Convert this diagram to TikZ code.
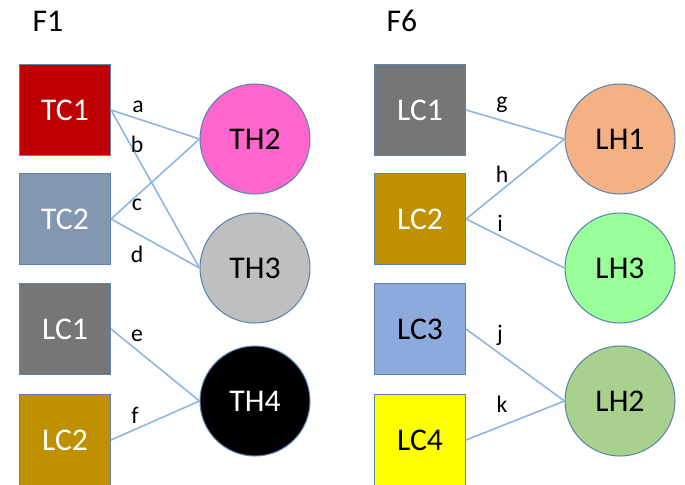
\documentclass[tikz,border=0pt]{standalone}
\usepackage{fontspec}
\setmainfont{Carlito}
\usetikzlibrary{positioning}

\definecolor{tcred}{HTML}{C00000}
\definecolor{tcslate}{HTML}{8497B0}
\definecolor{lcgray}{HTML}{767676}
\definecolor{lcgold}{HTML}{BF9000}
\definecolor{lcblue}{HTML}{8EA9DB}
\definecolor{lcyellow}{HTML}{FFFF00}
\definecolor{thpink}{HTML}{FF66CC}
\definecolor{thsilver}{HTML}{BFBFBF}
\definecolor{lhorange}{HTML}{F4B183}
\definecolor{lhmint}{HTML}{99FF99}
\definecolor{lhgreen}{HTML}{A9D18E}
\definecolor{rim}{HTML}{5B84B1}
\definecolor{wire}{HTML}{8DB4E2}

\begin{document}
\begin{tikzpicture}[x=0.02cm, y=-0.02cm,
    cause/.style ={rectangle, draw=rim, line width=0.6pt, minimum size=1.82cm,
                   inner sep=0pt, font=\fontsize{18}{21}\selectfont},
    effect/.style ={circle, draw=rim, line width=0.6pt, minimum size=2.2cm,
                   inner sep=0pt, font=\fontsize{18}{21}\selectfont},
    link/.style ={draw=wire, line width=0.9pt},
    tag/.style ={anchor=base, inner sep=0pt, font=\fontsize{13.5}{16}\selectfont},
    panel/.style ={anchor=base, inner sep=0pt, font=\fontsize{18}{21}\selectfont}]
   \useasboundingbox (0,0) rectangle (685,484);

   % F1
   \node[panel] (F1) at (48,31) {F1};
   \node[cause, fill=tcred, text=white]  (TC1) at (65,110)  {TC1};
   \node[cause, fill=tcslate, text=white] (TC2) at (65,219)  {TC2};
   \node[cause, fill=lcgray, text=white]  (LC1a) at (65,329) {LC1};
   \node[cause, fill=lcgold, text=white]  (LC2a) at (65,440) {LC2};
   \node[effect, fill=thpink]             (TH2) at (255,139) {TH2};
   \node[effect, fill=thsilver]           (TH3) at (255,268) {TH3};
   \node[effect, fill=black, text=white]  (TH4) at (255,401) {TH4};

   \draw[link] (TC1.east) to (TH2.west);
   \draw[link] (TC1.east) to (TH3.west);
   \draw[link] (TC2.east) to (TH2.west);
   \draw[link] (TC2.east) to (TH3.west);
   \draw[link] (LC1a.east) to (TH4.west);
   \draw[link] (LC2a.east) to (TH4.west);

   \node[tag] (la) at (138,112) {a};
   \node[tag] (lb) at (137,152) {b};
   \node[tag] (lc) at (137,210) {c};
   \node[tag] (ld) at (137,262) {d};
   \node[tag] (le) at (137,341) {e};
   \node[tag] (lf) at (135,423) {f};

   % F6
   \node[panel] (F6) at (402,31) {F6};
   \node[cause, fill=lcgray, text=white]  (LC1b) at (420,110) {LC1};
   \node[cause, fill=lcgold, text=white]  (LC2b) at (420,219) {LC2};
   \node[cause, fill=lcblue]              (LC3)  at (420,329) {LC3};
   \node[cause, fill=lcyellow]            (LC4)  at (420,440) {LC4};
   \node[effect, fill=lhorange]           (LH1) at (620,139) {LH1};
   \node[effect, fill=lhmint]             (LH3) at (620,268) {LH3};
   \node[effect, fill=lhgreen]            (LH2) at (620,401) {LH2};

   \draw[link] (LC1b.east) to (LH1.west);
   \draw[link] (LC2b.east) to (LH1.west);
   \draw[link] (LC2b.east) to (LH3.west);
   \draw[link] (LC3.east) to (LH2.west);
   \draw[link] (LC4.east) to (LH2.west);

   \node[tag] (lg) at (502,108) {g};
   \node[tag] (lh) at (502,182) {h};
   \node[tag] (li) at (500,231) {i};
   \node[tag] (lj) at (500,341) {j};
   \node[tag] (lk) at (502,412) {k};
 \end{tikzpicture}
\end{document}
